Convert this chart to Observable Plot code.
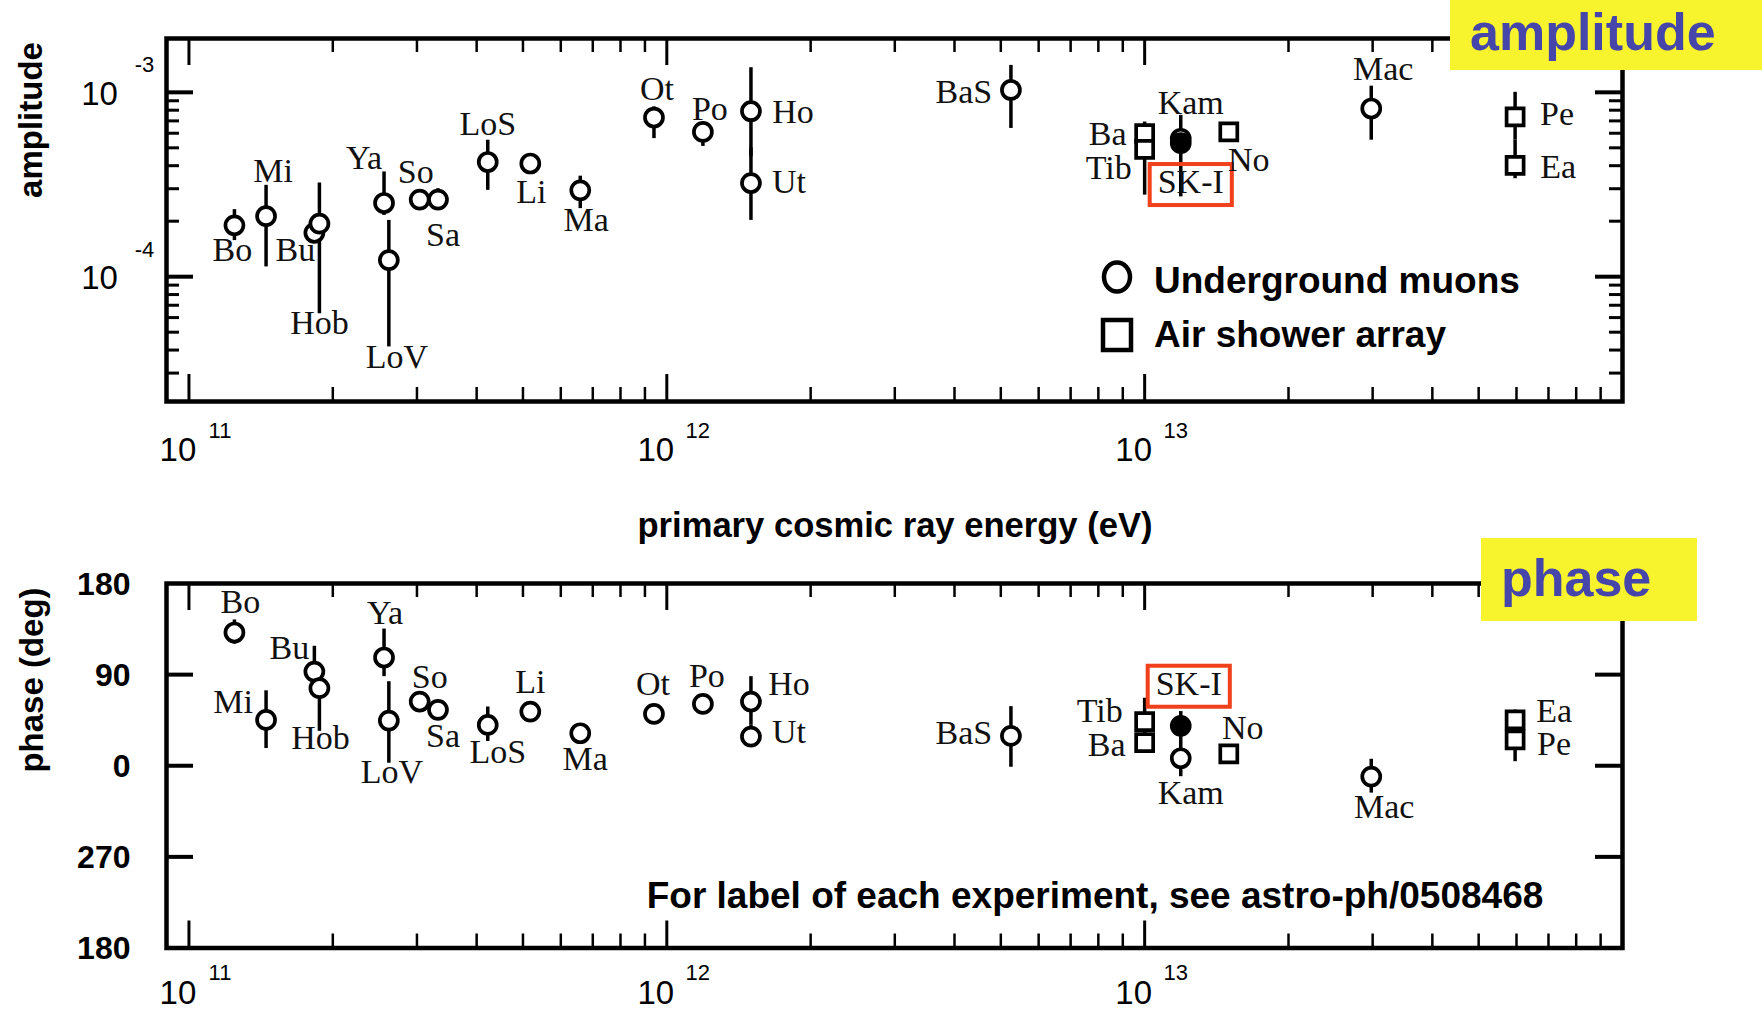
<!DOCTYPE html>
<html><head><meta charset="utf-8">
<script src="https://cdn.jsdelivr.net/npm/d3@7"></script>
<script src="https://cdn.jsdelivr.net/npm/@observablehq/plot@0.6"></script>
<style>
html,body{margin:0;padding:0;background:#fff;}
#wrap{position:relative;width:1762px;height:1013px;overflow:hidden;background:#fff;}
#wrap svg{position:absolute;left:0;}
.tag{position:absolute;background:#f7f32c;color:#4545aa;font-weight:bold;font-size:52px;line-height:1;font-family:"Liberation Sans",Arial,sans-serif;box-sizing:border-box;}
</style></head>
<body><div id="wrap"></div>
<script>
// ---------------- data ----------------
const experiments = ["Bo","Mi","Bu","Hob","Ya","LoV","So","Sa","LoS","Li","Ma","Ot","Po","Ho","Ut","BaS","Ba","Tib","Kam","SK-I","No","Mac","Pe","Ea"];
const technique = ["muon","muon","muon","muon","muon","muon","muon","muon","muon","muon","muon","muon","muon","muon","muon","muon","air","air","muon","sk","air","muon","air","air"];
const energyEV = [1.245e11,1.45e11,1.83e11,1.875e11,2.56e11,2.62e11,3.04e11,3.32e11,4.22e11,5.18e11,6.59e11,9.4e11,1.19e12,1.5e12,1.5e12,5.25e12,1.0e13,1.0e13,1.19e13,1.19e13,1.5e13,2.98e13,5.96e13,5.96e13];
const amplitude     = [1.90e-4,2.13e-4,1.73e-4,1.94e-4,2.51e-4,1.23e-4,2.62e-4,2.62e-4,4.19e-4,4.11e-4,2.94e-4,7.3e-4,6.1e-4,7.9e-4,3.22e-4,1.03e-3,5.97e-4,4.9e-4,5.6e-4,5.3e-4,6.1e-4,8.17e-4,7.36e-4,4.02e-4];
const amplitudeLow  = [1.57e-4,1.13e-4,1.58e-4,0.63e-4,2.15e-4,0.416e-4,2.45e-4,2.30e-4,2.94e-4,3.95e-4,2.34e-4,5.61e-4,5.09e-4,4.47e-4,2.02e-4,6.37e-4,5.5e-4,2.77e-4,2.71e-4,4.9e-4,6.1e-4,5.5e-4,5.5e-4,3.4e-4];
const amplitudeHigh = [2.31e-4,3.13e-4,1.90e-4,3.22e-4,3.70e-4,2.02e-4,2.80e-4,3.0e-4,5.5e-4,4.28e-4,3.51e-4,8.34e-4,6.62e-4,1.36e-3,5.0e-4,1.40e-3,6.9e-4,5.5e-4,7.5e-4,5.8e-4,6.1e-4,1.08e-3,1.0e-3,5.5e-4];
const phaseDeg  = [131.6,45.3,93,76.6,106.9,44.6,63.4,55.2,40.3,53.5,32.1,51.2,61.1,63.4,28.8,29.5,22.9,43.6,7.4,39.4,11.7,-10.7,25.5,45.3];
const phaseLow  = [120,17,68,34,88,2.5,58,50,24,48,26,42,56,40,20,-1.5,15,30,-10.8,25,11.7,-27,4,35];
const phaseHigh = [144,74,118,95,135,83,68,60,58,59,38,60,66,88,40,58.4,30,66.7,25,53.5,11.7,6.4,40,55];

const xMajorTicks = [1e11, 1e12, 1e13];
const xMinorTicks = [11,12,13].flatMap(k => [2,3,4,5,6,7,8,9].map(m => m * 10 ** k));
const ampMajorTicks = [1e-4, 1e-3];
const ampMinorTicks = [3e-5,4e-5,5e-5,6e-5,7e-5,8e-5,9e-5,2e-4,3e-4,4e-4,5e-4,6e-4,7e-4,8e-4,9e-4];
const phaseTicks = [180, 90, 0, -90, -180];
const phaseTickLabels = ["180","90","0","270","180"];

// label placement (pixel offsets of each experiment name from its point)
const ampLabelDx = [-2,7,-19,0,-20,8,-4,5,0,1,6,3,7,42,38,-47,-37,-36,10,10,20,12,42,43];
const ampLabelDy = [25,-45,17,99,-45,97,-27,36,-38,29,30,-28,-23,1,-1,2,0,19,-36,39,28,-39,-3,2];
const phLabelDx = [6,-33,-25,1,1,3,10,5,10,0,5,-1,4,38,38,-47,-38,-45,10,8,14,13,39,39];
const phLabelDy = [-30,-18,-23,50,-44,52,-24,26,27,-29,26,-30,-28,-17,-4,-3,3,-10,35,-42,-26,31,4,-9];

// ---------------- build ----------------
const rows = experiments.map((name, i) => ({
  name, tech: technique[i], energy: energyEV[i],
  amp: amplitude[i], ampLo: amplitudeLow[i], ampHi: amplitudeHigh[i],
  ph: phaseDeg[i], phLo: phaseLow[i], phHi: phaseHigh[i],
  adx: ampLabelDx[i], ady: ampLabelDy[i], pdx: phLabelDx[i], pdy: phLabelDy[i]
}));

const SANS = "Liberation Sans, Arial, Helvetica, sans-serif";
const SERIF = "Liberation Serif, Times New Roman, serif";
const W = 1762, ML = 166, MR = 140, FW = W - ML - MR;
const xDomain = [10 ** 10.953, 1e14];
const wrap = document.getElementById("wrap");
const center = {textAnchor: "middle", lineAnchor: "middle"};

function panel({top, height, marginTop, marginBottom, xLabelDy, xExpDy, yOpts, yKey, loKey, hiKey, dxKey, dyKey, yMajor, yMinor, yLabelMarks}) {
  const FH = height - marginTop - marginBottom;
  const marks = [
    // x ticks (bottom and top, inward)
    Plot.ruleX(xMajorTicks, {x: d => d, insetTop: FH - 27, strokeWidth: 3}),
    Plot.ruleX(xMajorTicks, {x: d => d, insetBottom: FH - 27, strokeWidth: 3}),
    Plot.ruleX(xMinorTicks, {x: d => d, insetTop: FH - 14, strokeWidth: 2.5}),
    Plot.ruleX(xMinorTicks, {x: d => d, insetBottom: FH - 14, strokeWidth: 2.5}),
    // y ticks (left and right, inward)
    Plot.ruleY(yMajor, {y: d => d, insetRight: FW - 27, strokeWidth: 4}),
    Plot.ruleY(yMajor, {y: d => d, insetLeft: FW - 27, strokeWidth: 4}),
    Plot.ruleY(yMinor, {y: d => d, insetRight: FW - 13, strokeWidth: 3}),
    Plot.ruleY(yMinor, {y: d => d, insetLeft: FW - 13, strokeWidth: 3}),
    Plot.frame({stroke: "black", strokeWidth: 4.5}),
    // x tick labels 10^n
    Plot.text(xMajorTicks, {x: d => d, frameAnchor: "bottom", ...center, text: () => "10", dx: -11, dy: xLabelDy, fontSize: 33, fontFamily: SANS}),
    Plot.text(xMajorTicks, {x: d => d, frameAnchor: "bottom", ...center, text: d => String(Math.round(Math.log10(d))), dx: 31, dy: xExpDy, fontSize: 22, fontFamily: SANS}),
    ...yLabelMarks,
    // error bars
    Plot.ruleX(rows, {x: "energy", y1: loKey, y2: hiKey, strokeWidth: 3.5, stroke: "black"}),
    // points
    Plot.dot(rows.filter(d => d.tech === "muon"), {x: "energy", y: yKey, r: 9, stroke: "black", strokeWidth: 3.7, fill: "white"}),
    Plot.dot(rows.filter(d => d.tech === "air"), {x: "energy", y: yKey, r: 9.6, symbol: "square", stroke: "black", strokeWidth: 3.7, fill: "white"}),
    Plot.dot(rows.filter(d => d.tech === "sk"), {x: "energy", y: yKey, r: 9, stroke: "black", strokeWidth: 3.7, fill: "black"}),
    // experiment names
    ...rows.map(d => Plot.text([d], {x: "energy", y: yKey, ...center, text: "name", dx: d[dxKey], dy: d[dyKey], fontSize: 34, fontFamily: SERIF, fill: "#111"}))
  ];
  const svg = Plot.plot({
    width: W, height, marginLeft: ML, marginRight: MR, marginTop, marginBottom,
    x: {type: "log", domain: xDomain, axis: null},
    y: {...yOpts, axis: null},
    style: {background: "transparent", overflow: "visible"},
    marks
  });
  svg.style.top = top + "px";
  wrap.appendChild(svg);
  // red box around the SK-I label
  d3.select(svg).selectAll("text").filter(function() { return this.textContent === "SK-I"; }).each(function() {
    const b = this.getBBox();
    d3.select(this.parentNode).insert("rect", () => this)
      .attr("transform", this.getAttribute("transform"))
      .attr("x", b.x - 8).attr("y", b.y + 1).attr("width", b.width + 16).attr("height", b.height + 4)
      .attr("fill", "none").attr("stroke", "#f0401c").attr("stroke-width", 4);
  });
  return svg;
}

// amplitude panel
const svg1 = panel({
  top: 0, height: 560, marginTop: 38, marginBottom: 159, xLabelDy: 49, xExpDy: 29,
  yOpts: {type: "log", domain: [10 ** -4.677, 10 ** -2.708]},
  yKey: "amp", loKey: "ampLo", hiKey: "ampHi", dxKey: "adx", dyKey: "ady",
  yMajor: ampMajorTicks, yMinor: ampMinorTicks,
  yLabelMarks: [
    Plot.text(ampMajorTicks, {y: d => d, frameAnchor: "left", ...center, text: () => "10", dx: -67, dy: 2, fontSize: 33, fontFamily: SANS}),
    Plot.text(ampMajorTicks, {y: d => d, frameAnchor: "left", ...center, text: d => String(Math.round(Math.log10(d))), dx: -22, dy: -27, fontSize: 22, fontFamily: SANS})
  ]
});

// phase panel
const svg2 = panel({
  top: 560, height: 453, marginTop: 23, marginBottom: 65.5, xLabelDy: 45, xExpDy: 25,
  yOpts: {type: "linear", domain: [-180, 180]},
  yKey: "ph", loKey: "phLo", hiKey: "phHi", dxKey: "pdx", dyKey: "pdy",
  yMajor: [90, 0, -90], yMinor: [],
  yLabelMarks: [
    Plot.text(phaseTicks, {y: d => d, frameAnchor: "left", textAnchor: "end", lineAnchor: "middle", text: (d, i) => phaseTickLabels[i], dx: -36, dy: 1, fontSize: 32, fontWeight: "bold", fontFamily: SANS})
  ]
});

// annotations: legend, axis titles, caption
const ov = d3.select(wrap).append("svg").attr("width", W).attr("height", 1013).style("top", "0px");
const t = (x, y, s, size, extra = {}) => {
  const e = ov.append("text").attr("x", x).attr("y", y).text(s)
    .attr("font-family", SANS).attr("font-size", size).attr("font-weight", "bold")
    .attr("dominant-baseline", "central").attr("text-anchor", extra.anchor || "middle");
  if (extra.rotate) e.attr("transform", `rotate(-90 ${x} ${y})`);
  return e;
};
t(30, 120, "amplitude", 33, {rotate: true});
t(31, 680, "phase (deg)", 33, {rotate: true});
t(895, 525, "primary cosmic ray energy (eV)", 34.6);
t(1095, 895, "For label of each experiment, see astro-ph/0508468", 37);
// legend
ov.append("ellipse").attr("cx", 1117).attr("cy", 277).attr("rx", 13).attr("ry", 14.5).attr("fill", "white").attr("stroke", "black").attr("stroke-width", 4.5);
ov.append("rect").attr("x", 1103).attr("y", 320).attr("width", 28).attr("height", 30).attr("fill", "white").attr("stroke", "black").attr("stroke-width", 4.5);
t(1154, 280, "Underground muons", 37, {anchor: "start"});
t(1154, 334, "Air shower array", 37, {anchor: "start"});

// yellow tags
const tag1 = document.createElement("div");
tag1.className = "tag";
Object.assign(tag1.style, {left: "1450px", top: "0px", width: "312px", height: "70px", paddingLeft: "20px", paddingTop: "6px"});
tag1.textContent = "amplitude";
wrap.appendChild(tag1);
const tag2 = document.createElement("div");
tag2.className = "tag";
Object.assign(tag2.style, {left: "1481px", top: "538px", width: "216px", height: "83px", paddingLeft: "20px", paddingTop: "14px"});
tag2.textContent = "phase";
wrap.appendChild(tag2);
</script></body></html>
